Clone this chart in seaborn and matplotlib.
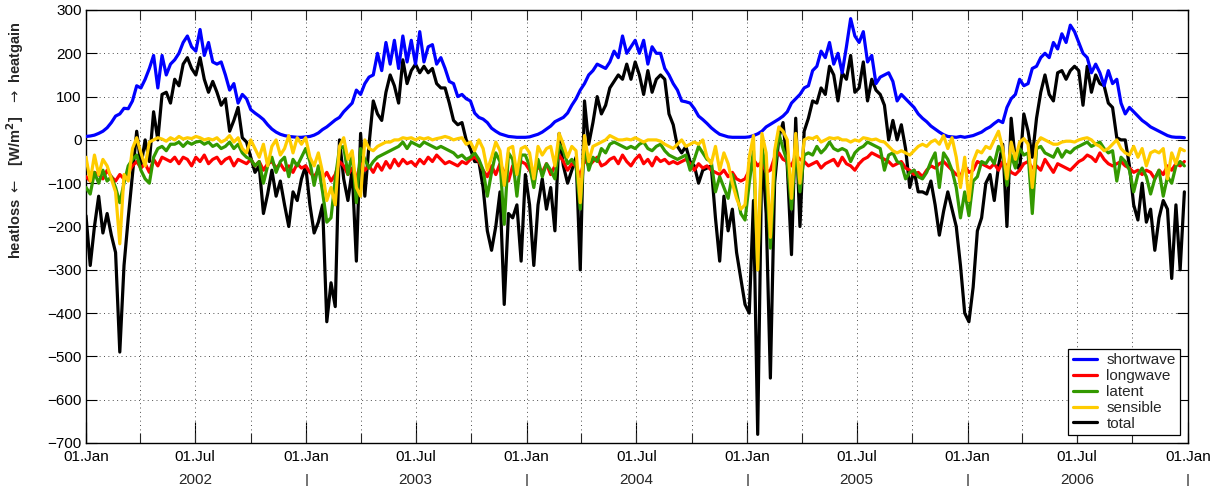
import matplotlib
matplotlib.use("Agg")
import matplotlib.pyplot as plt
import matplotlib.dates as mdates
import matplotlib.transforms as mtransforms
import pandas as pd
import seaborn as sns

# ---------------- data (weekly samples, W/m^2) ----------------
sw_2002 = [8,9,11,15,20,28,40,55,60,73,72,90,125,120,140,165,195,120,195,150,175,185,200,225,240,215,205,255,195,225,180,175,180,150,115,130,85,105,95,70,62,55,47,35,25,18,13,10,8,7,6,6]
sw_2003 = [7,8,11,16,24,30,38,46,52,65,75,85,115,105,130,145,150,200,160,225,175,230,165,240,180,230,175,250,180,215,220,175,190,165,135,130,100,105,95,90,62,52,48,40,27,20,14,11,8,7,6,6]
sw_2004 = [6,7,10,13,18,25,32,42,47,52,62,80,95,115,130,150,160,175,170,165,180,205,190,240,200,215,230,200,230,175,215,200,200,165,150,130,115,90,88,85,72,55,47,38,28,20,13,10,7,6,6,6]
sw_2005 = [6,7,10,14,20,30,36,42,48,55,65,85,95,105,120,125,160,170,205,190,225,175,200,155,215,280,240,225,250,180,195,130,145,150,155,135,90,105,95,85,75,60,50,42,32,25,18,12,8,7,6,8]
sw_2006 = [6,8,10,14,18,25,30,38,45,40,75,95,105,140,125,130,165,170,190,200,190,225,210,245,225,265,250,225,200,190,155,175,155,125,160,130,140,85,60,75,65,55,45,38,30,25,20,15,10,7,6,6,5]

lw_2002 = [-85,-95,-75,-80,-90,-70,-85,-95,-80,-90,-75,-60,-50,-65,-55,-75,-45,-60,-40,-45,-50,-40,-55,-40,-45,-60,-40,-50,-35,-55,-45,-40,-55,-45,-40,-60,-45,-50,-55,-45,-60,-50,-70,-55,-50,-65,-55,-70,-60,-75,-55,-65]
lw_2003 = [-60,-75,-85,-70,-90,-75,-95,-80,-50,-60,-80,-65,-90,-55,-70,-60,-75,-55,-70,-50,-65,-45,-60,-45,-55,-50,-60,-45,-55,-40,-50,-35,-45,-55,-50,-55,-60,-50,-55,-45,-40,-50,-70,-85,-60,-80,-55,-75,-95,-60,-70,-50]
lw_2004 = [-55,-70,-85,-60,-75,-55,-80,-60,-35,-50,-70,-55,-60,-85,-45,-60,-50,-40,-60,-55,-45,-40,-55,-35,-50,-60,-45,-35,-55,-45,-60,-40,-50,-45,-55,-50,-55,-50,-45,-55,-70,-55,-65,-60,-70,-75,-80,-70,-85,-75,-90,-95]
lw_2005 = [-90,-70,-45,-60,-50,-75,-70,-40,-30,-45,-50,-60,-35,-45,-50,-60,-55,-50,-65,-55,-50,-45,-60,-40,-55,-60,-70,-55,-45,-40,-30,-35,-40,-45,-50,-60,-55,-50,-65,-70,-80,-75,-85,-70,-60,-65,-55,-50,-60,-70,-80,-85]
lw_2006 = [-60,-75,-70,-50,-55,-60,-65,-55,-70,-50,-60,-75,-80,-70,-55,-50,-65,-60,-70,-45,-60,-75,-55,-60,-65,-70,-60,-50,-45,-35,-40,-50,-30,-45,-55,-60,-55,-50,-60,-65,-75,-70,-80,-70,-75,-90,-70,-80,-60,-70,-55,-60,-50]

lat_2002 = [-110,-125,-75,-100,-70,-95,-85,-110,-145,-100,-60,-45,-35,-70,-90,-100,-40,-20,-15,-25,-10,-10,-5,-15,-5,-10,-5,-3,-10,-5,-15,-10,-20,-15,-5,-20,-10,-30,-40,-45,-60,-50,-100,-60,-40,-75,-50,-40,-85,-45,-60,-40]
lat_2003 = [-20,-50,-105,-60,-120,-190,-180,-90,-20,-15,-80,-30,-145,-20,-45,-65,-50,-40,-35,-30,-25,-20,-15,-5,-20,-5,-10,-15,-5,-10,-15,-20,-15,-20,-25,-30,-40,-35,-45,-40,-30,-45,-70,-130,-75,-30,-50,-195,-30,-45,-130,-35]
lat_2004 = [-35,-60,-110,-45,-85,-55,-70,-90,-10,-25,-55,-45,-60,-160,-10,-70,-40,-50,-20,-30,-10,-5,-10,-15,-20,-15,-20,-10,-5,-20,-25,-15,-10,-25,-35,-40,-45,-40,-35,-70,-45,-15,-30,-45,-50,-120,-85,-110,-135,-80,-120,-170]
lat_2005 = [-185,-100,-25,-300,-15,-75,-250,-70,15,-20,-50,-160,-15,-120,-35,-30,-35,-15,-30,-20,-5,-20,-25,-20,-25,-50,-30,-20,-15,-5,-10,-15,-20,-70,-35,-30,-50,-55,-90,-75,-70,-85,-90,-75,-50,-30,-110,-30,-45,-70,-110,-180]
lat_2006 = [-120,-175,-95,-85,-50,-55,-40,-55,-15,-30,-105,-35,-65,-20,-35,-30,-170,-20,-15,-30,-35,-40,-20,-40,-25,-30,-20,-15,-10,-5,-15,-10,-5,-20,-30,-25,-95,-40,-50,-70,-120,-80,-65,-85,-125,-90,-70,-130,-85,-100,-60,-50,-60]

sen_2002 = [-40,-95,-35,-80,-45,-60,-90,-120,-240,-80,-95,-20,5,-30,-60,-5,0,5,2,-3,5,0,8,2,5,3,8,5,0,3,0,5,-5,0,10,-5,5,-20,-30,0,-20,-40,-10,-60,-15,0,-35,-20,10,-30,5,-10]
sen_2003 = [5,-40,-60,-30,-75,-140,-110,-150,-15,5,-45,-25,-110,-130,0,-20,-25,-15,-10,-5,-5,0,0,5,3,5,0,5,2,5,0,3,5,8,5,0,3,5,-10,-5,-25,0,-20,-70,-40,-5,-25,-105,-20,-15,-80,-20]
sen_2004 = [-15,-30,-90,-15,-35,-20,-15,-60,15,-10,-40,-15,-25,-145,10,-50,-15,-10,-5,0,10,5,0,0,2,0,5,0,-5,0,0,0,-3,-10,-15,-20,-10,0,-15,-10,-5,-10,0,-40,-55,-15,-70,-30,-55,-100,-135,-160]
sen_2005 = [-150,-40,10,-300,15,-30,-225,-25,30,20,0,-135,15,-100,0,5,3,8,-5,0,5,3,5,0,0,-5,0,-3,5,3,0,2,-3,-5,-15,-25,-30,-25,-30,-35,-25,-15,-10,-15,-5,0,-10,10,-20,5,-40,-110]
sen_2006 = [-40,-140,-50,-25,-30,-15,-20,0,20,-20,-90,-5,-45,-5,3,-10,-110,-10,5,0,-5,-10,-10,-5,-3,-3,-5,0,3,5,0,-10,-15,-25,-20,-10,0,-20,-30,-35,-15,-40,-20,-60,-30,-25,-30,-20,-90,-30,-55,-20,-25]

tot_2002 = [-175,-290,-200,-130,-215,-170,-220,-260,-490,-290,-180,-80,20,-60,0,-50,65,0,105,110,85,140,125,175,190,165,150,190,140,110,135,110,80,95,20,45,75,5,-5,-40,-75,-60,-170,-125,-70,-130,-95,-150,-200,-120,-140,-90]
tot_2003 = [-60,-150,-215,-190,-150,-420,-330,-385,0,-90,-140,-70,-280,15,-130,-10,90,60,45,110,150,125,85,185,130,160,175,155,170,155,165,130,120,120,85,45,35,40,0,-20,-50,-50,-110,-210,-255,-200,-120,-380,-170,-180,-150,-280]
tot_2004 = [-80,-150,-290,-150,-90,-160,-110,-210,15,-60,-100,-70,-40,-300,90,-10,40,100,60,80,120,135,150,140,175,140,180,150,105,160,110,140,150,140,60,35,-15,-30,-15,-50,-60,-100,-70,-65,-60,-180,-280,-130,-210,-160,-260,-320]
tot_2005 = [-380,-400,-140,-680,-20,-170,-550,-100,5,40,-60,-265,50,-200,20,50,90,85,120,105,170,150,90,155,140,195,110,120,180,90,140,115,105,80,0,45,0,35,-20,-110,-70,-120,-120,-125,-95,-150,-220,-165,-120,-160,-200,-290]
tot_2006 = [-400,-420,-340,-210,-180,-100,-80,-140,-60,-10,-200,50,-50,-70,60,20,-40,50,110,150,105,90,155,160,140,160,170,160,80,170,110,150,130,125,85,75,5,0,0,-60,-150,-185,-100,-190,-160,-255,-180,-140,-160,-320,-150,-300,-120]

series_names = ["shortwave", "longwave", "latent", "sensible", "total"]
series = {
    "shortwave": sw_2002 + sw_2003 + sw_2004 + sw_2005 + sw_2006,
    "longwave": lw_2002 + lw_2003 + lw_2004 + lw_2005 + lw_2006,
    "latent": lat_2002 + lat_2003 + lat_2004 + lat_2005 + lat_2006,
    "sensible": sen_2002 + sen_2003 + sen_2004 + sen_2005 + sen_2006,
    "total": tot_2002 + tot_2003 + tot_2004 + tot_2005 + tot_2006,
}
colors = {"shortwave": "#0000ff", "longwave": "#ff0000", "latent": "#339900",
          "sensible": "#ffcc00", "total": "#000000"}
draw_order = ["total", "shortwave", "longwave", "latent", "sensible"]
years = [2002, 2003, 2004, 2005, 2006]

dates = pd.date_range("2002-01-01", periods=len(series["total"]), freq="7D")
df = pd.DataFrame({"date": dates, **series})

# ---------------- figure ----------------
sns.set_theme(style="white")
plt.rcParams["font.family"] = ["Liberation Sans", "DejaVu Sans"]
plt.rcParams["axes.unicode_minus"] = True

W, H = 1219, 486
fig = plt.figure(figsize=(W / 100, H / 100), dpi=100)
ax = fig.add_axes([86 / W, 43 / H, 1102 / W, 433 / H])

for z, name in enumerate(draw_order):
    sns.lineplot(data=df, x="date", y=name, color=colors[name], lw=2.3,
                 ax=ax, label=name, zorder=3 + z, legend=False)

ax.set_xlim(pd.Timestamp("2002-01-01"), pd.Timestamp("2007-01-01"))
ax.set_ylim(-700, 300)
ax.set_yticks(range(-700, 301, 100))
ax.set_xlabel("")
ax.set_ylabel(r"heatloss $\leftarrow$   [W/m$^\mathbf{2}$]   $\rightarrow$ heatgain",
              fontsize=10.5, fontweight="bold")
ax.yaxis.set_label_coords(-0.0545, 0.70)

ax.xaxis.set_major_locator(mdates.MonthLocator(bymonth=[1, 7]))
ax.xaxis.set_major_formatter(mdates.DateFormatter("%d.%b"))
ax.xaxis.set_minor_locator(mdates.MonthLocator(bymonth=[1, 4, 7, 10]))
ax.xaxis.remove_overlapping_locs = False

ax.tick_params(axis="x", which="major", direction="in", length=15, width=0.8,
               top=False, bottom=True, labelsize=11, pad=5, colors="black")
ax.tick_params(axis="x", which="minor", direction="in", length=7.5, width=0.8,
               top=True, bottom=True)
ax.tick_params(axis="y", which="major", direction="in", length=8, width=0.8,
               left=True, right=True, labelsize=11, pad=3, colors="black")

grid_kw = dict(color="0.3", linestyle=(0, (1, 3.5)), linewidth=0.7)
ax.xaxis.grid(True, which="minor", **grid_kw)
ax.xaxis.grid(False, which="major")
ax.yaxis.grid(True, which="major", **grid_kw)
ax.set_axisbelow(True)

for sp in ax.spines.values():
    sp.set_visible(True)
    sp.set_color("black")
    sp.set_linewidth(1.0)

# second row of x labels: year names at mid-year, separators at year starts
trans = mtransforms.blended_transform_factory(ax.transData, ax.transAxes)
for y in years:
    ax.text(mdates.date2num(pd.Timestamp(f"{y}-07-01")), -0.085, str(y),
            transform=trans, ha="center", va="center", fontsize=11)
    ax.text(mdates.date2num(pd.Timestamp(f"{y + 1}-01-01")), -0.087, "|",
            transform=trans, ha="center", va="center", fontsize=11)

handles, labels = ax.get_legend_handles_labels()
hmap = dict(zip(labels, handles))
leg = ax.legend([hmap[n] for n in series_names], series_names, loc="lower right",
                fontsize=11, frameon=True, fancybox=False, framealpha=1,
                edgecolor="black", handlelength=1.6, handletextpad=0.6,
                labelspacing=0.12, borderpad=0.3, borderaxespad=0.5)
leg.get_frame().set_linewidth(0.9)
leg.set_zorder(20)

fig.savefig("out.png", dpi=100)
